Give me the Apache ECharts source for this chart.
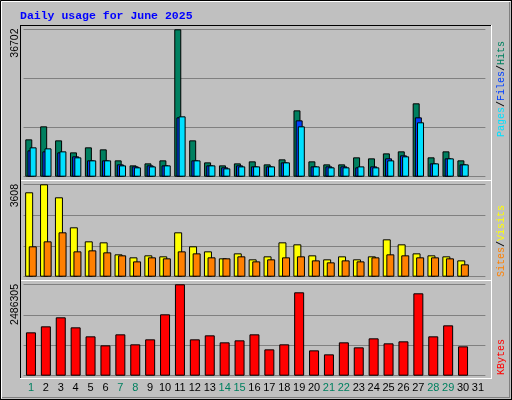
<!DOCTYPE html>
<html><head><meta charset="utf-8">
<script src="https://cdn.jsdelivr.net/npm/echarts@6/dist/echarts.min.js"></script>
<style>html,body{margin:0;padding:0;background:#c0c0c0}#c{width:512px;height:400px}</style>
</head><body><div id="c"></div>
<script>
const days = ['1','2','3','4','5','6','7','8','9','10','11','12','13','14','15','16','17','18','19','20','21','22','23','24','25','26','27','28','29','30','31'];
const weekend = ['1','7','8','14','15','21','22','28','29'];
const hits  = [9300,12540,9050,6060,7310,6810,4070,2820,3320,4070,36702,9050,3570,2820,3320,3820,3070,4320,16520,3820,3070,3070,4820,4570,5810,6310,18270,4820,6310,4070,null];
const files = [6560,6310,6060,5070,4070,4070,3070,2570,2820,2820,14780,4070,2820,2330,2820,2570,2570,3570,14030,2570,2570,2570,2330,2570,4570,5310,14780,3320,4570,3070,null];
const pages = [7310,7060,6310,4820,4070,4070,2820,2330,2570,2820,15030,4070,2820,2080,2570,2570,2570,3570,12540,2570,2330,2330,2570,2330,4070,5070,13540,3320,4570,3070,null];
const visits= [3296,3608,3100,1928,1381,1342,873,756,834,795,1733,1186,990,717,912,678,795,1342,1264,834,678,795,678,795,1459,1264,912,834,795,638,null];
const sites = [1186,1381,1733,990,1029,951,834,599,756,717,990,912,756,717,795,599,678,756,795,638,560,638,599,756,873,834,756,756,717,482,null];
const kbytes= [1179600,1343000,1588000,1315700,1070700,825700,1125200,853000,989000,1669600,2486305,989000,1098000,907400,961800,1125200,716800,853000,2268500,689600,580700,907400,771300,1016300,880200,934600,2241300,1070700,1370200,798500,null];
const maxLabels = ['36702','3608','2486305'];

const chart = echarts.init(document.getElementById('c'), null, {renderer:'canvas'});
const L = 23.5, R = 26.6;
const grids = [
  {left:L, right:R, top:29.3, height:147.4},
  {left:L, right:R, top:184.3, height:92.4},
  {left:L, right:R, top:284.3, height:91.4}
];
const maxes = [36702, 3608, 2486305];
const xAxes = grids.map((g,i)=>({type:'category', gridIndex:i, data:days, boundaryGap:true,
  axisLine:{show:false}, axisTick:{show:false},
  axisLabel:{show:i===2, margin:7, fontFamily:'Liberation Sans', fontSize:11, interval:0,
    color:(v)=>weekend.includes(v)?'#008060':'#000000'}}));
const yAxes = grids.map((g,i)=>({type:'value', gridIndex:i, min:0, max:maxes[i], interval:maxes[i]/3,
  axisLabel:{show:false}, axisLine:{show:false}, axisTick:{show:false},
  splitLine:{show:true, lineStyle:{color:'#808080', width:1}}}));
const bs = {borderColor:'#000', borderWidth:1};
const series = [
  {type:'bar', xAxisIndex:0, yAxisIndex:0, data:hits, barWidth:7, barGap:'-69%', itemStyle:{color:'#008060',...bs}},
  {type:'bar', xAxisIndex:0, yAxisIndex:0, data:files, barWidth:7, barGap:'-69%', itemStyle:{color:'#0040ff',...bs}},
  {type:'bar', xAxisIndex:0, yAxisIndex:0, data:pages, barWidth:7, barGap:'-69%', itemStyle:{color:'#00e0ff',...bs}},
  {type:'bar', xAxisIndex:1, yAxisIndex:1, data:visits, barWidth:8, barGap:'-55%', itemStyle:{color:'#ffff00',...bs}},
  {type:'bar', xAxisIndex:1, yAxisIndex:1, data:sites, barWidth:8, barGap:'-55%', itemStyle:{color:'#ff8000',...bs}},
  {type:'bar', xAxisIndex:2, yAxisIndex:2, data:kbytes, barWidth:10, itemStyle:{color:'#ff0000',...bs}}
];
series.forEach(s=>{s.animation=false; s.silent=true;});
const line=(x1,y1,x2,y2,c)=>({type:'line', z:100, shape:{x1,y1,x2,y2}, style:{stroke:c, lineWidth:1}});
const vt=(x,y,txt,font,fill,align)=>({type:'text', z:100, x, y, rotation:Math.PI/2,
  style:{text:txt, font, fill, align, verticalAlign:'middle'}});
const RF = '10px "Liberation Mono"';
const graphic = [
  line(0.5,0.5,511.5,0.5,'#000'), line(0.5,0.5,0.5,399.5,'#000'),
  line(511.5,0,511.5,400,'#000'), line(0,399.5,512,399.5,'#000'),
  line(1.5,1.5,510.5,1.5,'#fff'), line(1.5,1.5,1.5,398.5,'#fff'),
  line(509.5,2,509.5,398,'#808080'), line(2,397.5,510,397.5,'#808080'),
  line(20,25.5,491,25.5,'#000'), line(20.5,25,20.5,378,'#000'),
  line(491.5,25,491.5,379,'#fff'), line(20,378.5,492,378.5,'#fff'),
  line(21,180.5,491,180.5,'#fff'), line(21,280.5,491,280.5,'#fff'),
  {type:'text', z:100, x:20, y:16, style:{text:'Daily usage for June 2025', font:'bold 11.5px "Liberation Mono"', fill:'#0000ff', verticalAlign:'middle'}},
  vt(15.5,28.5,maxLabels[0],'10.5px "Liberation Sans"','#000','right'),
  vt(15.5,184,maxLabels[1],'10.5px "Liberation Sans"','#000','right'),
  vt(15.5,284,maxLabels[2],'10.5px "Liberation Sans"','#000','right'),
  {type:'text', z:100, x:501, y:137, rotation:Math.PI/2, style:{rich:{p:{fill:'#00e0ff'},f:{fill:'#0040ff'},h:{fill:'#008060'},s:{fill:'#000'}},
    text:'{p|Pages}{s|/}{f|Files}{s|/}{h|Hits}', font:RF, align:'left', verticalAlign:'middle'}},
  {type:'text', z:100, x:501, y:277, rotation:Math.PI/2, style:{rich:{a:{fill:'#ff8000'},b:{fill:'#ffff00'},s:{fill:'#000'}},
    text:'{a|Sites}{s|/}{b|Visits}', font:RF, align:'left', verticalAlign:'middle'}},
  vt(501,375,'KBytes',RF,'#ff0000','left')
];
chart.setOption({backgroundColor:'#c0c0c0', animation:false, grid:grids, xAxis:xAxes, yAxis:yAxes, series, graphic});
</script></body></html>
